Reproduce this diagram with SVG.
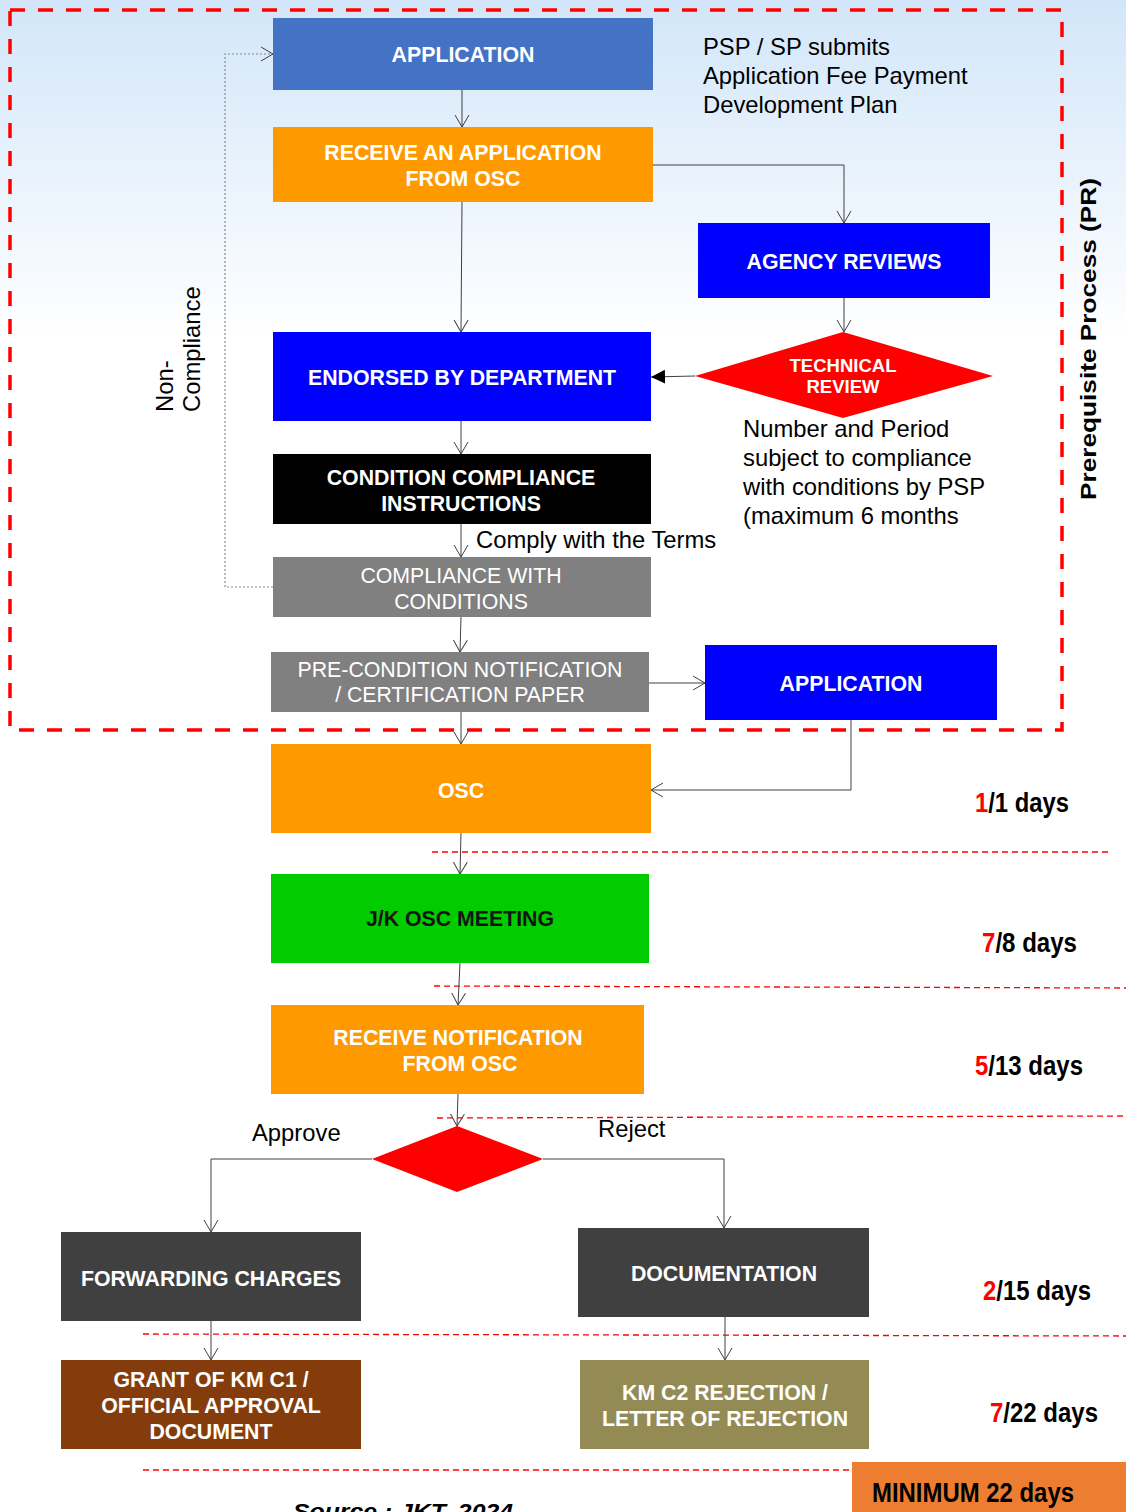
<svg xmlns="http://www.w3.org/2000/svg" width="1126" height="1512" viewBox="0 0 1126 1512">
  <defs>
    <linearGradient id="sky" x1="0" y1="0" x2="0" y2="340" gradientUnits="userSpaceOnUse">
      <stop offset="0" stop-color="#d2e6f9"/>
      <stop offset="1" stop-color="#ffffff"/>
    </linearGradient>
    <marker id="open" markerUnits="userSpaceOnUse" markerWidth="14" markerHeight="16" refX="12" refY="7" orient="auto" viewBox="0 0 14 14">
      <path d="M0,0 L12,7 L0,14" fill="none" stroke="#404040" stroke-width="1"/>
    </marker>
    <marker id="solid" markerUnits="userSpaceOnUse" markerWidth="16" markerHeight="16" refX="14" refY="7" orient="auto" viewBox="0 0 16 14">
      <path d="M0,0 L14,7 L0,14 Z" fill="#000"/>
    </marker>
  </defs>
  <style>
    .t { font-family: "Liberation Sans", Arial, sans-serif; }
    .nb { font-family: "Liberation Sans", Arial, sans-serif; font-weight: bold; font-size: 21.3px; fill: #fff; text-anchor: middle; }
    .nr { font-family: "Liberation Sans", Arial, sans-serif; font-size: 21.3px; fill: #fff; text-anchor: middle; }
    .small { font-size: 18.5px; }
    .dark { fill: #141414; }
    .note { font-family: "Liberation Sans", Arial, sans-serif; font-size: 23.8px; fill: #000; }
    .days { font-family: "Liberation Sans Narrow", "Liberation Sans", Arial, sans-serif; font-weight: bold; font-size: 28px; fill: #000; }
    .red { fill: #ff0000; }
    .link { fill: none; stroke: #404040; stroke-width: 1; marker-end: url(#open); }
    .sep { fill: none; stroke: #ff0000; stroke-width: 1.3; stroke-dasharray: 6 4; }
  </style>

  <!-- background -->
  <rect x="0" y="0" width="1126" height="1512" fill="#ffffff"/>
  <rect x="0" y="0" width="1126" height="340" fill="url(#sky)"/>

  <!-- prerequisite process frame -->
  <rect x="10" y="10" width="1052" height="720" fill="none" stroke="#ff0000" stroke-width="3.5" stroke-dasharray="15 13"/>
  <text class="t" transform="translate(1096,500) rotate(-90)" font-size="22" font-weight="bold" textLength="322" lengthAdjust="spacingAndGlyphs">Prerequisite Process (PR)</text>

  <!-- timeline separators -->
  <g id="separators">
    <line class="sep" x1="432" y1="852" x2="1110" y2="852"/>
    <line class="sep" x1="434" y1="986" x2="1126" y2="988"/>
    <line class="sep" x1="437" y1="1118" x2="1126" y2="1116"/>
    <line class="sep" x1="143" y1="1334" x2="1126" y2="1336"/>
    <line class="sep" x1="143" y1="1470" x2="1126" y2="1470"/>
  </g>

  <!-- connectors -->
  <g id="connectors">
    <path class="link" d="M462,90 L462,127"/>
    <path class="link" d="M653,165 L844,165 L844,223"/>
    <path class="link" d="M462,202 L461,332"/>
    <path class="link" d="M844,298 L844,332"/>
    <path d="M695,376 L651,377" fill="none" stroke="#404040" stroke-width="1" marker-end="url(#solid)"/>
    <path class="link" d="M461,421 L461,454"/>
    <path class="link" d="M461,524 L461,557"/>
    <path class="link" d="M461,617 L460,652"/>
    <path d="M273,587 L225,587 L225,54 L273,54" fill="none" stroke="#8a8a8a" stroke-width="1.2" stroke-dasharray="2 2" marker-end="url(#open)"/>
    <path class="link" d="M649,683 L705,683"/>
    <path class="link" d="M461,712 L461,744"/>
    <path class="link" d="M851,720 L851,790 L651,790"/>
    <path class="link" d="M461,833 L460,874"/>
    <path class="link" d="M460,963 L458,1005"/>
    <path class="link" d="M458,1094 L457,1126"/>
    <path class="link" d="M372,1159 L211,1159 L211,1232"/>
    <path class="link" d="M543,1159 L724,1159 L724,1228"/>
    <path class="link" d="M211,1321 L211,1360"/>
    <path class="link" d="M725,1317 L725,1360"/>
  </g>

  <!-- nodes -->
  <g id="application">
    <rect x="273" y="18" width="380" height="72" fill="#4472c4"/>
    <text class="nb" x="463" y="62">APPLICATION</text>
  </g>
  <g id="receive-application">
    <rect x="273" y="127" width="380" height="75" fill="#ff9900"/>
    <text class="nb" x="463" y="160">RECEIVE AN APPLICATION</text>
    <text class="nb" x="463" y="186">FROM OSC</text>
  </g>
  <g id="agency-reviews">
    <rect x="698" y="223" width="292" height="75" fill="#0000ff"/>
    <text class="nb" x="844" y="269">AGENCY REVIEWS</text>
  </g>
  <g id="endorsed">
    <rect x="273" y="332" width="378" height="89" fill="#0000ff"/>
    <text class="nb" x="462" y="385">ENDORSED BY DEPARTMENT</text>
  </g>
  <g id="technical-review">
    <polygon points="695,376 843,332 993,376 843,418" fill="#ff0000"/>
    <text class="nb small" x="843" y="372">TECHNICAL</text>
    <text class="nb small" x="843" y="393">REVIEW</text>
  </g>
  <g id="condition-instructions">
    <rect x="273" y="454" width="378" height="70" fill="#000000"/>
    <text class="nb" x="461" y="485">CONDITION COMPLIANCE</text>
    <text class="nb" x="461" y="511">INSTRUCTIONS</text>
  </g>
  <g id="compliance">
    <rect x="273" y="557" width="378" height="60" fill="#808080"/>
    <text class="nr" x="461" y="583">COMPLIANCE WITH</text>
    <text class="nr" x="461" y="609">CONDITIONS</text>
  </g>
  <g id="pre-condition">
    <rect x="271" y="652" width="378" height="60" fill="#808080"/>
    <text class="nr" x="460" y="677">PRE-CONDITION NOTIFICATION</text>
    <text class="nr" x="460" y="702">/ CERTIFICATION PAPER</text>
  </g>
  <g id="application-2">
    <rect x="705" y="645" width="292" height="75" fill="#0000ff"/>
    <text class="nb" x="851" y="691">APPLICATION</text>
  </g>
  <g id="osc">
    <rect x="271" y="744" width="380" height="89" fill="#ff9900"/>
    <text class="nb" x="461" y="798">OSC</text>
  </g>
  <g id="osc-meeting">
    <rect x="271" y="874" width="378" height="89" fill="#00cc00"/>
    <text class="nb dark" x="460" y="926">J/K OSC MEETING</text>
  </g>
  <g id="receive-notification">
    <rect x="271" y="1005" width="373" height="89" fill="#ff9900"/>
    <text class="nb" x="458" y="1045">RECEIVE NOTIFICATION</text>
    <text class="nb" x="460" y="1071">FROM OSC</text>
  </g>
  <g id="decision">
    <polygon points="372,1159 457,1126 543,1159 457,1192" fill="#ff0000"/>
  </g>
  <g id="forwarding-charges">
    <rect x="61" y="1232" width="300" height="89" fill="#404040"/>
    <text class="nb" x="211" y="1286">FORWARDING CHARGES</text>
  </g>
  <g id="documentation">
    <rect x="578" y="1228" width="291" height="89" fill="#404040"/>
    <text class="nb" x="724" y="1281">DOCUMENTATION</text>
  </g>
  <g id="grant">
    <rect x="61" y="1360" width="300" height="89" fill="#843c0c"/>
    <text class="nb" x="211" y="1387">GRANT OF KM C1 /</text>
    <text class="nb" x="211" y="1413">OFFICIAL APPROVAL</text>
    <text class="nb" x="211" y="1439">DOCUMENT</text>
  </g>
  <g id="rejection">
    <rect x="580" y="1360" width="289" height="89" fill="#948a54"/>
    <text class="nb" x="725" y="1400">KM C2 REJECTION /</text>
    <text class="nb" x="725" y="1426">LETTER OF REJECTION</text>
  </g>
  <g id="minimum">
    <rect x="852" y="1462" width="274" height="50" fill="#ed7d31"/>
    <text class="days" x="872" y="1502" textLength="202" lengthAdjust="spacingAndGlyphs">MINIMUM 22 days</text>
  </g>

  <!-- notes -->
  <text class="note" x="703" y="55">PSP / SP submits</text>
  <text class="note" x="703" y="84">Application Fee Payment</text>
  <text class="note" x="703" y="113">Development Plan</text>
  <text class="note" x="743" y="437">Number and Period</text>
  <text class="note" x="743" y="466">subject to compliance</text>
  <text class="note" x="743" y="495">with conditions by PSP</text>
  <text class="note" x="743" y="524">(maximum 6 months</text>
  <text class="note" x="476" y="548">Comply with the Terms</text>
  <text class="note" transform="translate(173,412) rotate(-90)">Non-</text>
  <text class="note" transform="translate(200,412) rotate(-90)">Compliance</text>
  <text class="note" x="252" y="1141">Approve</text>
  <text class="note" x="598" y="1137">Reject</text>

  <!-- durations -->
  <text class="days" x="975" y="812" textLength="94" lengthAdjust="spacingAndGlyphs"><tspan class="red">1</tspan>/1 days</text>
  <text class="days" x="982" y="952" textLength="95" lengthAdjust="spacingAndGlyphs"><tspan class="red">7</tspan>/8 days</text>
  <text class="days" x="975" y="1075" textLength="108" lengthAdjust="spacingAndGlyphs"><tspan class="red">5</tspan>/13 days</text>
  <text class="days" x="983" y="1300" textLength="108" lengthAdjust="spacingAndGlyphs"><tspan class="red">2</tspan>/15 days</text>
  <text class="days" x="990" y="1422" textLength="108" lengthAdjust="spacingAndGlyphs"><tspan class="red">7</tspan>/22 days</text>

  <!-- source, running off the lower edge -->
  <text class="t" x="293" y="1519" font-size="22" font-weight="bold" font-style="italic" textLength="220" lengthAdjust="spacingAndGlyphs">Source :  JKT, 2024</text>
</svg>
